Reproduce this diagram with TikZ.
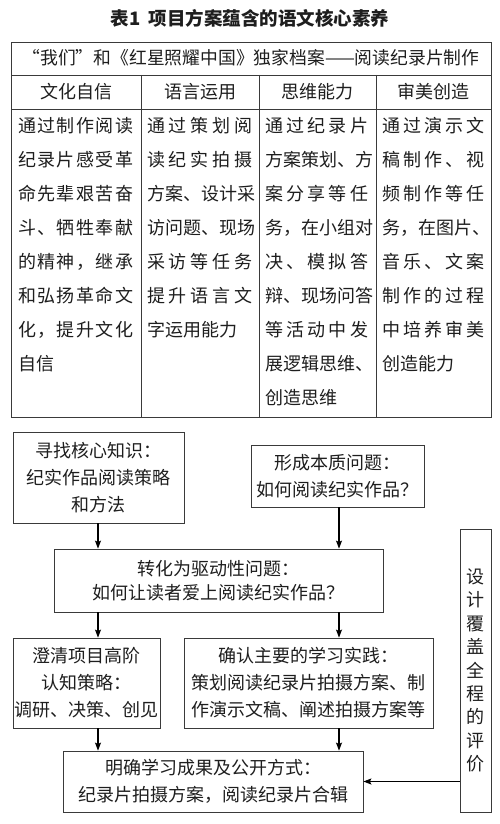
\documentclass[tikz,border=0pt]{standalone}
\usepackage{fontspec}
\newfontfamily\cjk{Noto Sans CJK SC}
\usetikzlibrary{arrows.meta}
\definecolor{linec}{HTML}{3A3A3A}
\definecolor{textc}{HTML}{1E1E1E}
\ExplSyntaxOn
\NewDocumentCommand\jl{m m}{\hbox to #1{\tl_map_inline:nn{#2}{##1\hfil}\unskip}}
\ExplSyntaxOff
\begin{document}
\begin{tikzpicture}[x=1pt,y=-1pt,
  box/.style={draw=linec, line width=0.8pt, inner sep=0pt, align=center,
    font=\cjk\fontsize{18}{27}\selectfont, text=textc},
  cellt/.style={anchor=base west, inner sep=0pt, text=textc,
    font=\cjk\fontsize{18}{34}\selectfont},
  headt/.style={anchor=base, inner sep=0pt, text=textc,
    font=\cjk\fontsize{18}{20}\selectfont},
  tline/.style={draw=linec, line width=0.8pt},
  arr/.style={draw=black, line width=1.1pt, -{Stealth[length=8pt,width=6pt,inset=1.5pt]}}]
\useasboundingbox[fill=white] (0,0) rectangle (500,824);
% title
\node[inner sep=0pt, text=textc, font=\cjk\bfseries\fontsize{18.5}{20}\selectfont] (title) at (250,18) {表1\hspace{.45em}项目方案蕴含的语文核心素养};
% table
\path[tline] (11,42) rectangle (491,417);
\path[tline] (11,75) -- (491,75);
\path[tline] (11,109) -- (491,109);
\path[tline] (141,75) -- (141,417);
\path[tline] (259,75) -- (259,417);
\path[tline] (376,75) -- (376,417);
\node[headt, font=\cjk\fontsize{17.8}{20}\selectfont] (r1) at (251,64.5) {“我们”和《红星照耀中国》独家档案——阅读纪录片制作};
\node[headt] (h1) at (76,99) {文化自信};
\node[headt] (h2) at (200,99) {语言运用};
\node[headt] (h3) at (317.5,99) {思维能力};
\node[headt] (h4) at (433.5,99) {审美创造};
\node[cellt] (c1) at (18,132) {\vtop{%
  \jl{115pt}{通过制作阅读}\jl{115pt}{纪录片感受革}\jl{115pt}{命先辈艰苦奋}%
  \jl{115pt}{斗、牺牲奉献}\jl{115pt}{的精神，继承}\jl{115pt}{和弘扬革命文}%
  \jl{115pt}{化，提升文化}\hbox{自信}}};
\node[cellt] (c2) at (147,132) {\vtop{%
  \jl{105pt}{通过策划阅}\jl{105pt}{读纪实拍摄}\jl{105pt}{方案、设计采}%
  \jl{105pt}{访问题、现场}\jl{105pt}{采访等任务}\jl{105pt}{提升语言文}%
  \hbox{字运用能力}}};
\node[cellt] (c3) at (265,132) {\vtop{%
  \jl{103pt}{通过纪录片}\jl{103pt}{方案策划、方}\jl{103pt}{案分享等任}%
  \jl{103pt}{务，在小组对}\jl{103pt}{决、模拟答}\jl{103pt}{辩、现场问答}%
  \jl{103pt}{等活动中发}\jl{103pt}{展逻辑思维、}\hbox{创造思维}}};
\node[cellt] (c4) at (382,132) {\vtop{%
  \jl{102pt}{通过演示文}\jl{102pt}{稿制作、视}\jl{102pt}{频制作等任}%
  \jl{102pt}{务，在图片、}\jl{102pt}{音乐、文案}\jl{102pt}{制作的过程}%
  \jl{102pt}{中培养审美}\hbox{创造能力}}};
% flowchart
\node[box, minimum width=171pt, minimum height=91pt] (A) at (98.5,477.5) {寻找核心知识：\\纪实作品阅读策略\\和方法};
\node[box, minimum width=173pt, minimum height=62pt] (B) at (337.5,476) {形成本质问题：\\如何阅读纪实作品？};
\node[box, minimum width=329pt, minimum height=63pt, font=\cjk\fontsize{18}{23.5}\selectfont] (C) at (218.5,580.5) {转化为驱动性问题：\\如何让读者爱上阅读纪实作品？};
\node[box, minimum width=147pt, minimum height=90pt] (E) at (86.5,683) {澄清项目高阶\\认知策略：\\调研、决策、创见};
\node[box, minimum width=249pt, minimum height=90pt] (F) at (308.5,683) {确认主要的学习实践：\\策划阅读纪录片拍摄方案、制\\作演示文稿、阐述拍摄方案等};
\node[box, minimum width=300pt, minimum height=61pt] (G) at (213,781.5) {明确学习成果及公开方式：\\纪录片拍摄方案，阅读纪录片合辑};
\node[box, minimum width=31pt, minimum height=283pt, font=\cjk\fontsize{18}{23.4}\selectfont] (D) at (475.5,670.5) {设\\计\\覆\\盖\\全\\程\\的\\评\\价};
\coordinate (xl) at (98,0);
\coordinate (xr) at (339,0);
\draw[arr] (A.south -| xl) -- (C.north -| xl);
\draw[arr] (B.south -| xr) -- (C.north -| xr);
\draw[arr] (C.south -| xl) -- (E.north -| xl);
\draw[arr] (C.south -| xr) -- (F.north -| xr);
\draw[arr] (E.south -| xl) -- (G.north -| xl);
\draw[arr] (F.south -| xr) -- (G.north -| xr);
\draw[arr] (D.west |- G.east) -- (G.east);
\end{tikzpicture}
\end{document}
